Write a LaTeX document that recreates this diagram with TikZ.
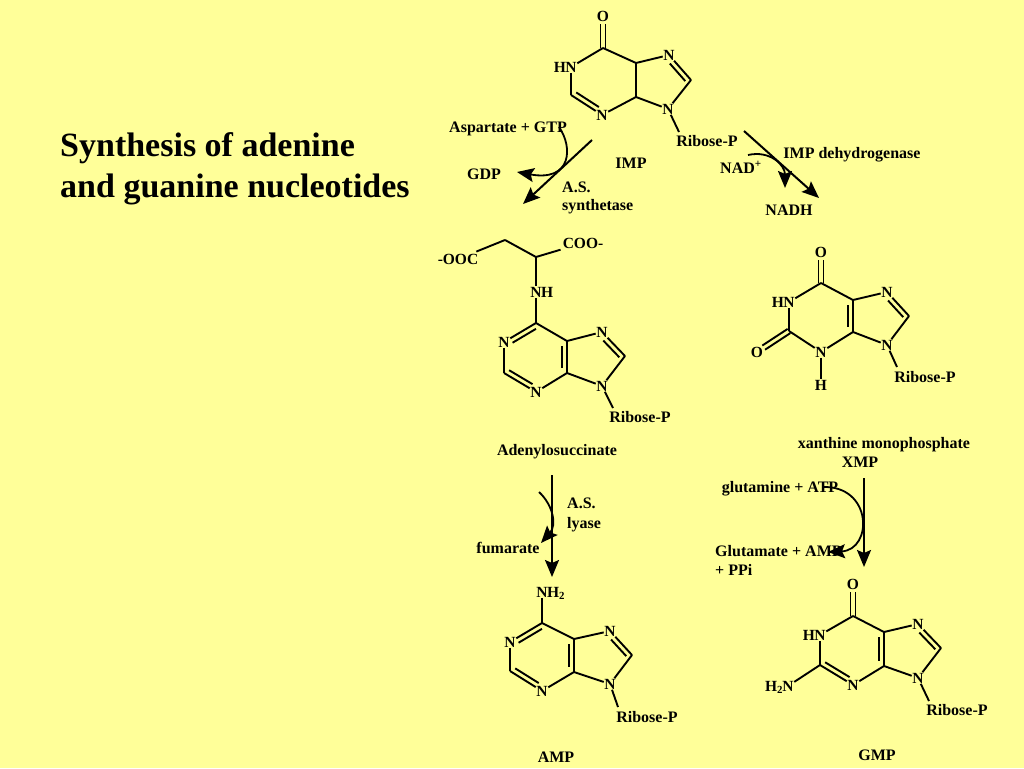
\documentclass[tikz,border=0pt]{standalone}
\usepackage{fontspec}
\setmainfont{Liberation Serif}
\usetikzlibrary{positioning,calc,arrows.meta}

\definecolor{slide}{HTML}{FFFF99}

\tikzset{
  atom/.style={inner sep=0.5pt,font=\bfseries\fontsize{15.5}{16}\selectfont},
  lab/.style={inner sep=0pt,text height=11pt,text depth=0pt,font=\bfseries\fontsize{16}{19}\selectfont},
  bond/.style={line width=1.9pt},
  rxn/.style={->,line width=2pt},
  cof/.style={->,line width=1.8pt},
  >={Stealth[length=17pt,width=14pt,inset=3pt]}
}

% inner line of a double bond, left of the way from #1 to #2
\newcommand{\sidebond}[5]{\draw[bond,shorten <=#4pt,shorten >=#5pt]
  ($(#1)!#3pt!90:(#2)$) -- ($(#2)!#3pt!-90:(#1)$);}

\begin{document}
\begin{tikzpicture}[x=1pt,y=-1pt]
\fill[slide] (0,0) rectangle (1024,768);
\useasboundingbox (0,0) rectangle (1024,768);

\node[inner sep=0pt,anchor=west,align=left,font=\bfseries\fontsize{34}{41}\selectfont] (title) at (60,169)
  {Synthesis of adenine\\and guanine nucleotides};

% IMP
\node[atom] (imp_o) at (603,16) {O};
\coordinate (imp_c6) at (603,48);
\node[atom] (imp_n1) at (571,67) {N};
\node[atom] (imp_h) [base left=-2pt of imp_n1] {H};
\coordinate (imp_c2) at (571,95);
\node[atom] (imp_n3) at (602,115) {N};
\coordinate (imp_c4) at (636,97);
\coordinate (imp_c5) at (636,63);
\node[atom] (imp_n7) at (669,55) {N};
\coordinate (imp_c8) at (691,80);
\node[atom] (imp_n9) at (668,109) {N};
\coordinate (imp_r) at (679,132);
\node[lab] (imp_rib) at (707,141) {Ribose-P};
\path[bond]
(imp_c6) edge (imp_n1)
(imp_n1) edge (imp_c2)
(imp_c2) edge (imp_n3)
(imp_n3) edge (imp_c4)
(imp_c4) edge (imp_c5)
(imp_c5) edge (imp_c6)
(imp_c5) edge (imp_n7)
(imp_n7) edge (imp_c8)
(imp_c8) edge (imp_n9)
(imp_n9) edge (imp_c4)
(imp_n9) edge (imp_r)
; %end path
\sidebond{imp_o}{imp_c6}{2.5}{8}{0}
\sidebond{imp_c6}{imp_o}{2.5}{0}{8}
\sidebond{imp_c2}{imp_n3}{5}{3}{7}
\sidebond{imp_c8}{imp_n7}{5}{3}{7}
\node[lab] (imp_name) at (631,163) {IMP};

% adenylosuccinate
\node[atom,inner sep=2pt] (ads_ooc) at (458,259) {-OOC};
\coordinate (ads_ch2) at (505,240);
\coordinate (ads_ch) at (536,257);
\node[atom,inner sep=2pt] (ads_coo) at (583,243) {COO-};
\node[atom] (ads_nh) at (536,292) {N};
\node[atom] (ads_h) [base right=-2pt of ads_nh] {H};
\coordinate (ads_c6) at (536,323);
\node[atom] (ads_n1) at (504,342) {N};
\coordinate (ads_c2) at (504,373);
\node[atom] (ads_n3) at (536,392) {N};
\coordinate (ads_c4) at (567,373);
\coordinate (ads_c5) at (567,341);
\node[atom] (ads_n7) at (602,332) {N};
\coordinate (ads_c8) at (625,356);
\node[atom] (ads_n9) at (602,386) {N};
\coordinate (ads_r) at (613,408);
\node[lab] (ads_rib) at (640,417) {Ribose-P};
\path[bond]
(ads_ooc) edge (ads_ch2)
(ads_ch2) edge (ads_ch)
(ads_ch) edge (ads_coo)
(ads_ch) edge (ads_nh)
(ads_nh) edge (ads_c6)
(ads_c6) edge (ads_n1)
(ads_n1) edge (ads_c2)
(ads_c2) edge (ads_n3)
(ads_n3) edge (ads_c4)
(ads_c4) edge (ads_c5)
(ads_c5) edge (ads_c6)
(ads_c5) edge (ads_n7)
(ads_n7) edge (ads_c8)
(ads_c8) edge (ads_n9)
(ads_n9) edge (ads_c4)
(ads_n9) edge (ads_r)
; %end path
\sidebond{ads_n1}{ads_c6}{-5}{7}{3}
\sidebond{ads_c2}{ads_n3}{5}{3}{7}
\sidebond{ads_c5}{ads_c4}{-5}{5}{5}
\sidebond{ads_c8}{ads_n7}{5}{3}{7}
\node[lab] (ads_name) at (557,450) {Adenylosuccinate};

% AMP
\node[atom] (amp_n6) at (542,592) {N};
\node[atom] (amp_h) [base right=-2pt of amp_n6] {H\textsubscript{2}};
\coordinate (amp_c6) at (542,623);
\node[atom] (amp_n1) at (510,642) {N};
\coordinate (amp_c2) at (510,671);
\node[atom] (amp_n3) at (542,691) {N};
\coordinate (amp_c4) at (574,672);
\coordinate (amp_c5) at (574,639);
\node[atom] (amp_n7) at (610,631) {N};
\coordinate (amp_c8) at (632,655);
\node[atom] (amp_n9) at (610,684) {N};
\coordinate (amp_r) at (618,707);
\node[lab] (amp_rib) at (647,717) {Ribose-P};
\path[bond]
(amp_n6) edge (amp_c6)
(amp_c6) edge (amp_n1)
(amp_n1) edge (amp_c2)
(amp_c2) edge (amp_n3)
(amp_n3) edge (amp_c4)
(amp_c4) edge (amp_c5)
(amp_c5) edge (amp_c6)
(amp_c5) edge (amp_n7)
(amp_n7) edge (amp_c8)
(amp_c8) edge (amp_n9)
(amp_n9) edge (amp_c4)
(amp_n9) edge (amp_r)
; %end path
\sidebond{amp_n1}{amp_c6}{-5}{7}{3}
\sidebond{amp_c2}{amp_n3}{5}{3}{7}
\sidebond{amp_c5}{amp_c4}{-5}{5}{5}
\sidebond{amp_c8}{amp_n7}{5}{3}{7}
\node[lab] (amp_name) at (556,757) {AMP};

% XMP
\node[atom] (xmp_o6) at (821,252) {O};
\coordinate (xmp_c6) at (821,283);
\node[atom] (xmp_n1) at (789,302) {N};
\node[atom] (xmp_h1) [base left=-2pt of xmp_n1] {H};
\coordinate (xmp_c2) at (789,331);
\node[atom] (xmp_o2) at (757,352) {O};
\node[atom] (xmp_n3) at (821,352) {N};
\node[atom] (xmp_h3) at (821,385) {H};
\coordinate (xmp_c4) at (853,332);
\coordinate (xmp_c5) at (853,300);
\node[atom] (xmp_n7) at (887,292) {N};
\coordinate (xmp_c8) at (909,316);
\node[atom] (xmp_n9) at (887,345) {N};
\coordinate (xmp_r) at (897,367);
\node[lab] (xmp_rib) at (925,377) {Ribose-P};
\path[bond]
(xmp_c6) edge (xmp_n1)
(xmp_n1) edge (xmp_c2)
(xmp_c2) edge (xmp_n3)
(xmp_n3) edge (xmp_c4)
(xmp_n3) edge (xmp_h3)
(xmp_c4) edge (xmp_c5)
(xmp_c5) edge (xmp_c6)
(xmp_c5) edge (xmp_n7)
(xmp_n7) edge (xmp_c8)
(xmp_c8) edge (xmp_n9)
(xmp_n9) edge (xmp_c4)
(xmp_n9) edge (xmp_r)
; %end path
\sidebond{xmp_o6}{xmp_c6}{2.5}{8}{0}
\sidebond{xmp_c6}{xmp_o6}{2.5}{0}{8}
\sidebond{xmp_o2}{xmp_c2}{2.5}{8}{0}
\sidebond{xmp_c2}{xmp_o2}{2.5}{0}{8}
\sidebond{xmp_c5}{xmp_c4}{-5}{5}{5}
\sidebond{xmp_c8}{xmp_n7}{5}{3}{7}
\node[lab] (xmp_long) at (884,443) {xanthine monophosphate};
\node[lab] (xmp_name) at (860,462) {XMP};

% GMP
\node[atom] (gmp_o) at (853,584) {O};
\coordinate (gmp_c6) at (853,616);
\node[atom] (gmp_n1) at (820,635) {N};
\node[atom] (gmp_h1) [base left=-2pt of gmp_n1] {H};
\coordinate (gmp_c2) at (820,665);
\node[atom] (gmp_n2) at (788,686) {N};
\node[atom] (gmp_h2) [base left=-2pt of gmp_n2] {H\textsubscript{2}};
\node[atom] (gmp_n3) at (853,685) {N};
\coordinate (gmp_c4) at (884,666);
\coordinate (gmp_c5) at (884,632);
\node[atom] (gmp_n7) at (918,624) {N};
\coordinate (gmp_c8) at (941,648);
\node[atom] (gmp_n9) at (918,678) {N};
\coordinate (gmp_r) at (929,701);
\node[lab] (gmp_rib) at (957,710) {Ribose-P};
\path[bond]
(gmp_c6) edge (gmp_n1)
(gmp_n1) edge (gmp_c2)
(gmp_c2) edge (gmp_n2)
(gmp_c2) edge (gmp_n3)
(gmp_n3) edge (gmp_c4)
(gmp_c4) edge (gmp_c5)
(gmp_c5) edge (gmp_c6)
(gmp_c5) edge (gmp_n7)
(gmp_n7) edge (gmp_c8)
(gmp_c8) edge (gmp_n9)
(gmp_n9) edge (gmp_c4)
(gmp_n9) edge (gmp_r)
; %end path
\sidebond{gmp_o}{gmp_c6}{2.5}{8}{0}
\sidebond{gmp_c6}{gmp_o}{2.5}{0}{8}
\sidebond{gmp_c2}{gmp_n3}{5}{3}{7}
\sidebond{gmp_c5}{gmp_c4}{-5}{5}{5}
\sidebond{gmp_c8}{gmp_n7}{5}{3}{7}
\node[lab] (gmp_name) at (877,755) {GMP};

% cofactors and enzymes
\node[lab] (asp) at (508,127) {Aspartate + GTP};
\node[lab] (gdp) at (484,174) {GDP};
\node[lab,anchor=west] (ass1) at (562,187) {A.S.};
\node[lab,anchor=west] (ass2) at (562,205) {synthetase};
\node[lab] (impdh) at (852,153) {IMP dehydrogenase};
\node[lab] (nad) at (741,168) {NAD\textsuperscript{+}};
\node[lab] (nadh) at (789,210) {NADH};
\node[lab,anchor=west] (asl1) at (567,503) {A.S.};
\node[lab,anchor=west] (asl2) at (567,523) {lyase};
\node[lab] (fum) at (508,548) {fumarate};
\node[lab] (gln) at (780,487) {glutamine + ATP};
\node[lab,anchor=west] (glu1) at (715,551) {Glutamate + AMP};
\node[lab,anchor=west] (glu2) at (715,570) {+ PPi};

% arrows
\coordinate (a1_s) at (592,140);
\coordinate (a1_e) at (523,204);
\coordinate (c1_s) at (559,127);
\coordinate (c1_e) at (517,172);
\coordinate (a2_s) at (744,131);
\coordinate (a2_e) at (819,198);
\coordinate (c2_s) at (748,155);
\coordinate (c2_e) at (785,188);
\coordinate (a3_s) at (552,475);
\coordinate (a3_e) at (552,577);
\coordinate (c3_s) at (539,492);
\coordinate (c3_e) at (541,543);
\coordinate (a4_s) at (864,478);
\coordinate (a4_e) at (864,567);
\coordinate (c4_s) at (822,487);
\coordinate (c4_e) at (828,552);

\path[rxn]
(a1_s) edge (a1_e)
(a2_s) edge (a2_e)
(a3_s) edge (a3_e)
(a4_s) edge (a4_e)
; %end path
\draw[cof] (c1_s) .. controls (573,147) and (572,182) .. (c1_e);
\draw[cof] (c2_s) .. controls (770,150) and (785,165) .. (c2_e);
\draw[cof] (c3_s) .. controls (553,505) and (557,525) .. (c3_e);
\draw[cof] (c4_s) .. controls (873,485) and (873,550) .. (c4_e);
\end{tikzpicture}
\end{document}
